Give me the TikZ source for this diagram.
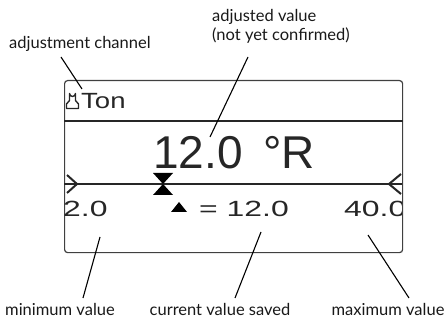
\documentclass[tikz,border=0pt]{standalone}
\usepackage{fontspec}
\setmainfont{Lato}
\newfontfamily\lcd{Liberation Sans}
\begin{document}
\begin{tikzpicture}[x=1pt,y=-1pt,
  lbl/.style={font=\fontsize{16.5}{18}\selectfont, inner sep=0pt, text=black!90},
  lead/.style={line width=1.1pt, black},
  lcdtxt/.style={font=\lcd\fontsize{22}{22}\selectfont, inner sep=0pt, text=black!85},
  bar/.style={line width=2pt, black!85},
]
\useasboundingbox (0,0) rectangle (448,321);

% display frame
\node[draw=black!75, line width=1.2pt, rounded corners=3pt, minimum width=338pt, minimum height=172pt, anchor=north west, inner sep=0pt] (disp) at (64,80) {};

% header
\draw[line width=1.4pt, black!85, line join=round] (66.5,108.5) -- (66.5,104) -- (69.5,100.5) -- (69.5,93.5) arc[start angle=180, end angle=0, radius=3] -- (75.5,100.5) -- (78.5,104) -- (78.5,108.5) -- cycle;
\node[lcdtxt, anchor=base west] (chan) at (81,109) {\scalebox{1.25}[1]{Ton}};
\draw[bar] (disp.west |- 0,121) coordinate (hl) -- (disp.east |- 0,121) coordinate (hr);

% big value
\node[anchor=base west, inner sep=0pt, font=\lcd\fontsize{46}{46}\selectfont, text=black!85] (val) at (153,168) {12.0 \,°R};

% scale
\coordinate (sl) at (64,184);
\coordinate (sr) at (402,184);
\draw[bar] (sl) -- (sr);
\draw[bar, line join=miter] (67,175) -- (77,184) -- (67,193);
\draw[bar, line join=miter] (401,174) -- (389,184) -- (401,194);
\fill[black] (153,173) -- (173,173) -- (163,184) -- cycle;
\fill[black] (163,184) -- (153,195) -- (173,195) -- cycle;

% bottom row
\node[lcdtxt, anchor=base west] (minv) at (63,216) {\scalebox{1.45}[1]{2.0}};
\fill[black] (171,212) -- (187,212) -- (179,202) -- cycle;
\node[lcdtxt, anchor=base west] (curv) at (199,216) {\scalebox{1.45}[1]{= 12.0}};
\begin{scope}
\clip (300,190) rectangle (401.4,240);
\node[lcdtxt, anchor=base west] (maxv) at (344,216) {\scalebox{1.45}[1]{40.0}};
\end{scope}

% labels
\node[lbl, anchor=base west] (lchan) at (9,49) {adjustment channel};
\node[lbl, anchor=base west] (ladj1) at (212,22) {adjusted value};
\node[lbl, anchor=base west] (ladj2) at (212,41) {(not yet confirmed)};
\node[lbl, anchor=base] (lmin) at (60,315) {minimum value};
\node[lbl, anchor=base] (lcur) at (220,315) {current value saved};
\node[lbl, anchor=base] (lmax) at (388,315) {maximum value};

% leader lines
\coordinate (a1) at (61,57);  \coordinate (a2) at (82,89);
\coordinate (b1) at (248,57); \coordinate (b2) at (210,137);
\coordinate (c1) at (100,237); \coordinate (c2) at (83,298);
\coordinate (d1) at (261,232); \coordinate (d2) at (235,298);
\coordinate (e1) at (368,235); \coordinate (e2) at (409,298);
\draw[lead] (a1) -- (a2);
\draw[lead] (b1) -- (b2);
\draw[lead] (c1) -- (c2);
\draw[lead] (d1) -- (d2);
\draw[lead] (e1) -- (e2);
\end{tikzpicture}
\end{document}
